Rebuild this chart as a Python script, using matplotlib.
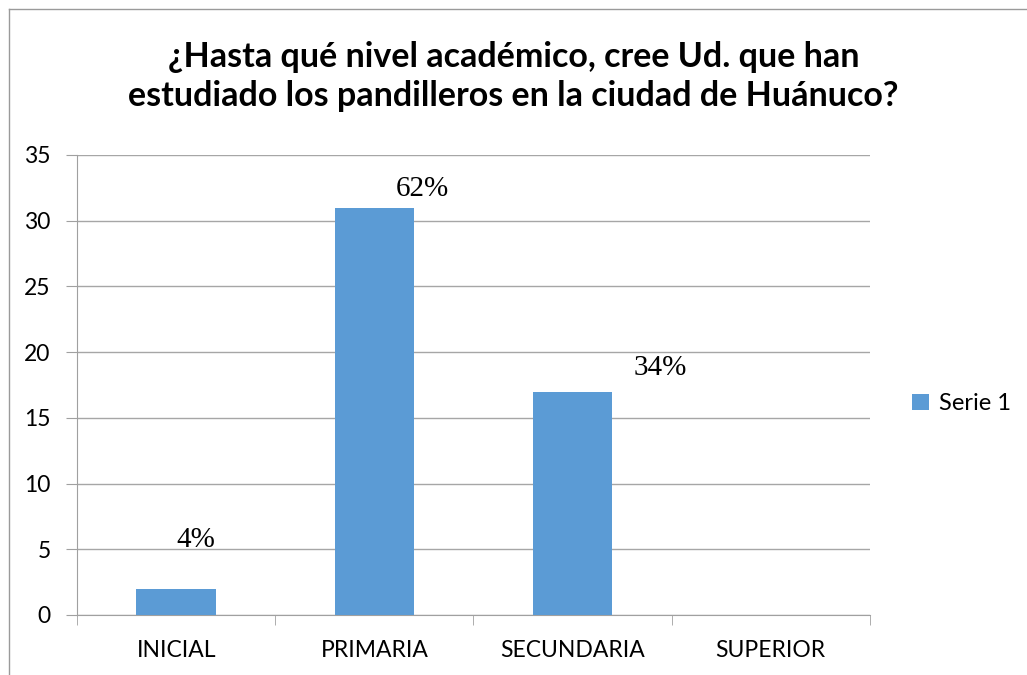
import matplotlib.pyplot as plt
from matplotlib.lines import Line2D

# Data
categories = ['INICIAL', 'PRIMARIA', 'SECUNDARIA', 'SUPERIOR']
values = [2, 31, 17, 0]
pct_labels = ['4%', '62%', '34%', '']
series_name = 'Serie 1'
title = '¿Hasta qué nivel académico, cree Ud. que han\nestudiado los pandilleros en la ciudad de Huánuco?'

plt.rcParams['font.family'] = ['Lato', 'DejaVu Sans']

fig = plt.figure(figsize=(10.27, 6.75), dpi=100)
ax = fig.add_axes([0.075, 0.0889, 0.772, 0.6815])

x = list(range(len(categories)))
ax.bar(x, values, width=0.4, color='#5b9bd5', label=series_name, zorder=3)

ax.set_xlim(-0.5, 3.5)
ax.set_ylim(0, 35)
ax.set_yticks(range(0, 36, 5))
ax.set_xticks(x)
ax.set_xticklabels(categories)
ax.set_xticks([-0.5, 0.5, 1.5, 2.5, 3.5], minor=True)
ax.tick_params(axis='x', which='major', length=0, pad=18, labelsize=16.5)
ax.tick_params(axis='x', which='minor', length=7, color='#a0a0a0', direction='out')
ax.tick_params(axis='y', length=8, color='#a0a0a0', labelsize=16.5, pad=11)
ax.grid(axis='y', color='#a6a6a6', lw=1, zorder=0)
for s in ['top', 'right']:
    ax.spines[s].set_visible(False)
for s in ['left', 'bottom']:
    ax.spines[s].set_color('#a0a0a0')

# percentage labels (offset to the right like the original)
offsets = [(0.1, 3.7), (0.24, 1.4), (0.44, 1.8), (0, 0)]
for i, (v, lab) in enumerate(zip(values, pct_labels)):
    if lab:
        ax.text(i + offsets[i][0], v + offsets[i][1], lab, ha='center', va='center',
                fontsize=21, family='Liberation Serif', zorder=4)

fig.text(0.5, 0.887, title, ha='center', va='center', fontsize=24.5,
         fontweight='bold', linespacing=1.27)

ax.legend(loc='center left', bbox_to_anchor=(0.8675, 0.4015),
          bbox_transform=fig.transFigure, frameon=False, fontsize=17,
          handlelength=0.7, handleheight=0.7, handletextpad=0.45)

# chart frame (top and left edges)
fig.add_artist(Line2D([9 / 1027, 1], [1 - 9 / 675, 1 - 9 / 675],
                      transform=fig.transFigure, color='#9a9a9a', lw=1))
fig.add_artist(Line2D([9 / 1027, 9 / 1027], [0, 1 - 9 / 675],
                      transform=fig.transFigure, color='#9a9a9a', lw=1))

fig.savefig('out.png', dpi=100)
